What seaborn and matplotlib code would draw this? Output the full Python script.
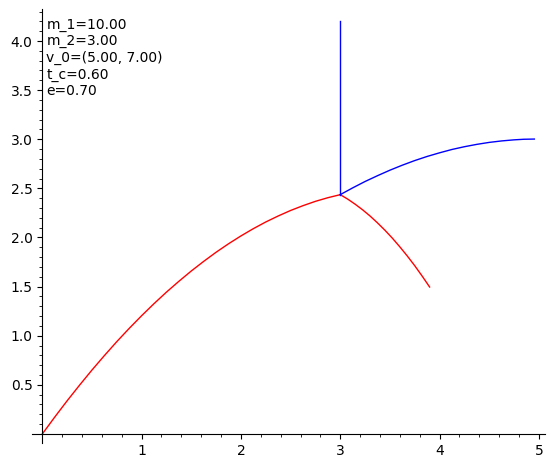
import pandas as pd
import seaborn as sns
import matplotlib.pyplot as plt
from matplotlib.ticker import MultipleLocator, FormatStrFormatter

# Curves
red_before_x = [0.0, 0.125, 0.25, 0.375, 0.5, 0.625, 0.75, 0.875, 1.0, 1.125, 1.25, 1.375,
                1.5, 1.625, 1.75, 1.875, 2.0, 2.125, 2.25, 2.375, 2.5, 2.625, 2.75, 2.875, 3.0]
red_before_y = [0.0, 0.172, 0.338, 0.497, 0.651, 0.798, 0.940, 1.075, 1.204, 1.327, 1.444, 1.554,
                1.659, 1.757, 1.850, 1.936, 2.016, 2.090, 2.158, 2.219, 2.275, 2.324, 2.368, 2.405, 2.436]

red_after_x = [3.0, 3.075, 3.15, 3.225, 3.3, 3.375, 3.45, 3.525, 3.6, 3.675, 3.75, 3.825, 3.9]
red_after_y = [2.436, 2.391, 2.339, 2.282, 2.219, 2.149, 2.074, 1.993, 1.905, 1.812, 1.713, 1.607, 1.496]

blue_after_x = [3.0, 3.125, 3.25, 3.375, 3.5, 3.625, 3.75, 3.875, 4.0, 4.125, 4.25,
                4.375, 4.5, 4.625, 4.75, 4.85, 4.955]
blue_after_y = [2.436, 2.505, 2.570, 2.629, 2.685, 2.736, 2.783, 2.825, 2.862, 2.896, 2.924,
                2.948, 2.968, 2.983, 2.994, 3.000, 3.002]

blue_fall_x = [3.0, 3.0]
blue_fall_y = [4.2, 2.436]

labels = ['m_1=10.00', 'm_2=3.00', 'v_0=(5.00, 7.00)', 't_c=0.60', 'e=0.70']

fig = plt.figure(figsize=(5.53, 4.68), dpi=100)
ax = fig.add_axes([32 / 553, 25 / 468, 513 / 553, 434 / 468])

segments = [
    (red_before_x, red_before_y, '#ff0000'),
    (red_after_x, red_after_y, '#ff0000'),
    (blue_after_x, blue_after_y, '#0000ff'),
    (blue_fall_x, blue_fall_y, '#0000ff'),
]
for xs, ys, c in segments:
    df = pd.DataFrame({'x': xs, 'y': ys})
    sns.lineplot(data=df, x='x', y='y', color=c, sort=False, estimator=None,
                 linewidth=1, ax=ax)

ax.set_xlim(-0.104, 5.062)
ax.set_ylim(-0.092, 4.326)
ax.set_xlabel('')
ax.set_ylabel('')

# Sage style axes crossing at the origin
ax.spines['top'].set_visible(False)
ax.spines['right'].set_visible(False)
ax.spines['left'].set_position(('data', 0))
ax.spines['bottom'].set_position(('data', 0))

ax.set_xticks([1, 2, 3, 4, 5])
ax.set_yticks([0.5, 1.0, 1.5, 2.0, 2.5, 3.0, 3.5, 4.0])
ax.yaxis.set_major_formatter(FormatStrFormatter('%.1f'))
ax.xaxis.set_minor_locator(MultipleLocator(0.2))
ax.yaxis.set_minor_locator(MultipleLocator(0.1))
ax.tick_params(which='major', length=3.5, labelsize=10)
ax.tick_params(which='minor', length=2)

ax.text(0.04, 4.235, '\n'.join(labels), fontsize=10, ha='left', va='top',
        linespacing=1.22)

fig.savefig('out.png', dpi=100)
